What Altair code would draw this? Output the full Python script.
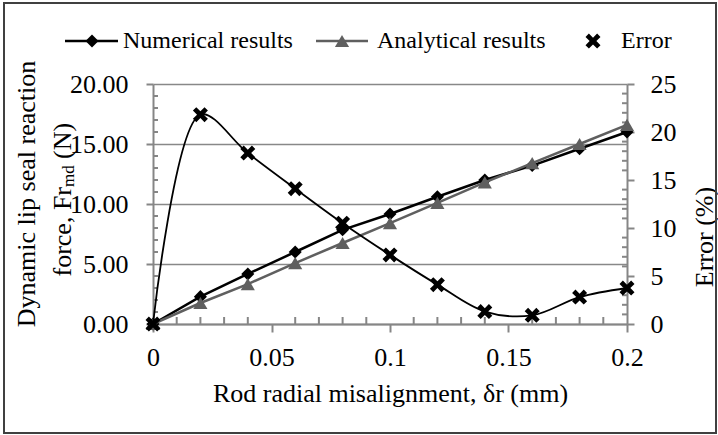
import altair as alt
import pandas as pd

# ---- data ----
misalignment = [0.0, 0.02, 0.04, 0.06, 0.08, 0.10, 0.12, 0.14, 0.16, 0.18, 0.20]
numerical = [0.0, 2.28, 4.17, 6.0, 7.85, 9.17, 10.6, 12.0, 13.2, 14.6, 16.0]
analytical = [0.0, 1.75, 3.33, 5.08, 6.75, 8.4, 10.1, 11.8, 13.4, 15.0, 16.6]
error_pct = [0.0, 21.8, 17.8, 14.1, 10.5, 7.2, 4.1, 1.3, 0.9, 2.8, 3.75]

x_ticks = [0, 0.05, 0.1, 0.15, 0.2]
x_minor = [0.01, 0.02, 0.03, 0.04, 0.06, 0.07, 0.08, 0.09, 0.11, 0.12, 0.13, 0.14,
           0.16, 0.17, 0.18, 0.19]
left_ticks = [0, 5, 10, 15, 20]
left_minor = [1, 2, 3, 4, 6, 7, 8, 9, 11, 12, 13, 14, 16, 17, 18, 19]
right_ticks = [0, 5, 10, 15, 20, 25]
right_minor = [1, 2, 3, 4, 6, 7, 8, 9, 11, 12, 13, 14, 16, 17, 18, 19, 21, 22, 23, 24]

W, H = 474, 240
FONT = "Liberation Serif"
AX = "#868686"
GRAY = "#5f5f5f"
XPATH = ("M-1,-0.55L-0.55,-1L0,-0.45L0.55,-1L1,-0.55L0.45,0L1,0.55L0.55,1"
         "L0,0.45L-0.55,1L-1,0.55L-0.45,0Z")

df = pd.DataFrame({"x": misalignment, "num": numerical, "ana": analytical, "err": error_pct})

xs = alt.Scale(domain=[0, 0.2], nice=False, zero=False)
ls = alt.Scale(domain=[0, 20], nice=False)
rs = alt.Scale(domain=[0, 25], nice=False)

x_axis = alt.Axis(values=x_ticks, labelExpr="toString(datum.value)", grid=False,
                  tickSize=8, labelPadding=12, labelFontSize=26, labelFont=FONT,
                  labelFlush=False, labelOverlap=False,
                  title="Rod radial misalignment, δr (mm)", titleFontSize=26,
                  titleFont=FONT, titleFontWeight="normal", titlePadding=10,
                  domainColor=AX, domainWidth=2, tickColor=AX, tickWidth=2,
                  labelColor="black", titleColor="black", orient="bottom")
left_axis = alt.Axis(values=left_ticks, format=".2f", grid=True, gridColor="#888888",
                     gridWidth=1.5, tickSize=7, labelPadding=18, labelFontSize=26,
                     labelFont=FONT, labelFlush=False, title="", domainColor=AX,
                     domainWidth=2, tickColor=AX, tickWidth=2, labelColor="black",
                     orient="left")
right_axis = alt.Axis(values=right_ticks, format="d", grid=False, orient="right",
                      tickSize=7, labelPadding=16, labelFontSize=26, labelFont=FONT,
                      labelFlush=False, title="", domainColor=AX, domainWidth=2,
                      tickColor=AX, tickWidth=2, labelColor="black")

base = alt.Chart(df)
X = alt.X("x:Q", scale=xs, axis=x_axis)

num_line = base.mark_line(color="black", strokeWidth=2.5).encode(
    x=X, y=alt.Y("num:Q", scale=ls, axis=left_axis))
num_pts = base.mark_point(shape="diamond", filled=True, color="black", size=170,
                          opacity=1).encode(x=X, y=alt.Y("num:Q", scale=ls, axis=None))
ana_line = base.mark_line(color=GRAY, strokeWidth=2.5).encode(
    x=X, y=alt.Y("ana:Q", scale=ls, axis=None))
ana_pts = base.mark_point(shape="triangle-up", filled=True, color=GRAY, size=200,
                          opacity=1).encode(x=X, y=alt.Y("ana:Q", scale=ls, axis=None))
err_line = base.mark_line(color="black", strokeWidth=1.8, interpolate="catmull-rom").encode(
    x=X, y=alt.Y("err:Q", scale=rs, axis=right_axis))
err_pts = base.mark_point(shape=XPATH, filled=True, color="black", size=225,
                          opacity=1).encode(x=X, y=alt.Y("err:Q", scale=rs, axis=None))

xminor = alt.Chart(pd.DataFrame({"x": x_minor})).mark_rule(color=AX, strokeWidth=2).encode(
    x=X, y=alt.value(H), y2=alt.value(H - 7))
lminor = alt.Chart(pd.DataFrame({"v": left_minor})).mark_rule(color=AX, strokeWidth=2).encode(
    y=alt.Y("v:Q", scale=ls, axis=None), x=alt.value(0), x2=alt.value(5))
rminor = alt.Chart(pd.DataFrame({"v": right_minor})).mark_rule(color=AX, strokeWidth=2).encode(
    y=alt.Y("v:Q", scale=rs, axis=None), x=alt.value(W - 5), x2=alt.value(W))

one = pd.DataFrame({"a": [0]})


def txt(s, x, y, size=26, angle=0, align="center", baseline="middle"):
    return alt.Chart(one).mark_text(text=s, font=FONT, fontSize=size, angle=angle,
                                    align=align, baseline=baseline, color="black").encode(
        x=alt.value(x), y=alt.value(y))


# titles (offsets relative to plot origin at 153, 84)
t_left1 = txt("Dynamic lip seal reaction", -126, 110, angle=270)
t_left2a = txt("force, Fr", -90, 103, angle=270, align="right")
t_left2b = txt("md", -84, 103, size=17, angle=270, align="left")
t_left2c = txt("(N)", -90, 75, angle=270, align="left")
t_right = txt("Error (%)", 552, 153, angle=270)

# legend
LY = -43
leg_items = [
    alt.Chart(one).mark_rule(color="black", strokeWidth=2.5).encode(
        x=alt.value(-88), x2=alt.value(-35), y=alt.value(LY)),
    alt.Chart(one).mark_point(shape="diamond", filled=True, color="black", size=170,
                              opacity=1).encode(x=alt.value(-61), y=alt.value(LY)),
    txt("Numerical results", -30, LY, size=24, align="left"),
    alt.Chart(one).mark_rule(color=GRAY, strokeWidth=2.5).encode(
        x=alt.value(163), x2=alt.value(215), y=alt.value(LY)),
    alt.Chart(one).mark_point(shape="triangle-up", filled=True, color=GRAY, size=200,
                              opacity=1).encode(x=alt.value(189), y=alt.value(LY)),
    txt("Analytical results", 224, LY, size=24, align="left"),
    alt.Chart(one).mark_point(shape=XPATH, filled=True, color="black", size=225,
                              opacity=1).encode(x=alt.value(440), y=alt.value(LY)),
    txt("Error", 468, LY, size=24, align="left"),
]

border = alt.Chart(one).mark_rect(filled=False, stroke="#404040", strokeWidth=2).encode(
    x=alt.value(4 - 153), x2=alt.value(716 - 153), y=alt.value(3 - 84), y2=alt.value(433 - 84))

chart = alt.layer(
    num_line, lminor, xminor, rminor, num_pts, ana_line, ana_pts, err_line, err_pts,
    t_left1, t_left2a, t_left2b, t_left2c, t_right, border, *leg_items
).resolve_scale(y="independent").properties(
    width=W, height=H,
    autosize=alt.AutoSizeParams(type="none"),
    padding={"left": 153, "top": 84, "right": 718 - 153 - W, "bottom": 435 - 84 - H},
    background="white",
).configure_view(stroke=None)

chart.save("out.html", embed_options={"renderer": "svg", "actions": False})
